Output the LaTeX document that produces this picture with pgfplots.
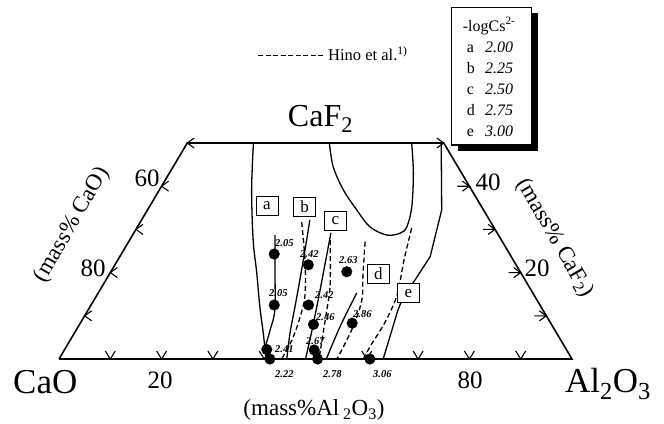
\documentclass[border=0pt]{standalone}
\usepackage{pgfplots}
\pgfplotsset{compat=1.18}
\usepackage{fontspec}
\setmainfont{Liberation Serif}

% chevron marks for the ternary scale ticks
\pgfdeclareplotmark{tickbase}{%
  \pgfpathmoveto{\pgfqpoint{-5pt}{8pt}}%
  \pgfpathlineto{\pgfqpoint{0pt}{0pt}}%
  \pgfpathlineto{\pgfqpoint{5pt}{8pt}}%
  \pgfusepathqstroke}
\pgfdeclareplotmark{tickleft}{%
  \pgfpathmoveto{\pgfqpoint{7pt}{5pt}}%
  \pgfpathlineto{\pgfqpoint{0pt}{0pt}}%
  \pgfpathlineto{\pgfqpoint{7pt}{-5pt}}%
  \pgfusepathqstroke}
\pgfdeclareplotmark{tickright}{%
  \pgfpathmoveto{\pgfqpoint{-12pt}{0pt}}%
  \pgfpathlineto{\pgfqpoint{0pt}{0pt}}%
  \pgfpathmoveto{\pgfqpoint{-7pt}{5pt}}%
  \pgfpathlineto{\pgfqpoint{0pt}{0pt}}%
  \pgfpathlineto{\pgfqpoint{-7pt}{-5pt}}%
  \pgfusepathqstroke}

% composition (A = mass% Al2O3, F = mass% CaF2) -> drawing position
\newcommand{\tx}{59+5.13*(\thisrow{A}+0.5*\thisrow{F})}
\newcommand{\ty}{359-4.32*\thisrow{F}}

\tikzset{
  iso/.style={line width=1.3pt, smooth, tension=0.55, no marks},
  hino/.style={iso, dash pattern=on 5pt off 3pt},
  val/.style={font=\fontsize{10.5}{11}\selectfont\bfseries\itshape, anchor=base west, inner sep=0pt},
  boxlab/.style={draw, fill=white, line width=1pt, minimum width=22pt, minimum height=19pt,
                 inner sep=0pt, font=\fontsize{17}{17}\selectfont},
  keytxt/.style={anchor=base west, inner sep=0pt, font=\fontsize{16}{18}\selectfont},
}

\begin{document}
\begin{tikzpicture}
\begin{axis}[
  x=1pt, y=1pt,
  xmin=0, xmax=664, ymin=0, ymax=421, y dir=reverse,
  hide axis, clip=false,
]
\path (axis cs:0,0) rectangle (axis cs:664,421);

% section of the CaO-Al2O3-CaF2 triangle up to 50 mass% CaF2
\addplot[line width=1.6pt, no marks] table[x expr=\tx, y expr=\ty]{
A F
0 0
100 0
50 50
0 50
0 0
};

% scale ticks
\addplot[only marks, mark=tickbase, mark options={line width=1.1pt}] table[x expr=\tx, y expr=\ty]{
A F
10 0
20 0
30 0
40 0
50 0
60 0
70 0
80 0
90 0
};
\addplot[only marks, mark=tickleft, mark options={line width=1.1pt}] table[x expr=\tx, y expr=\ty]{
A F
0 10
0 20
0 30
0 40
0 50
};
\addplot[only marks, mark=tickright, mark options={line width=1.1pt}] table[x expr=\tx, y expr=\ty]{
A F
90 10
80 20
70 30
60 40
50 50
};

% iso-sulphide-capacity lines, this work (solid)
\addplot[iso] table[x expr=\tx, y expr=\ty]{
A F
12.9 50
18.0 39.1
24.1 27.5
28.6 19.9
33.1 12.1
36.85 5.95
40.35 0
};
\addplot[iso] table[x expr=\tx, y expr=\ty]{
A F
27.75 28.7
31.8 20.6
36.4 11.34
37.8 6.7
38.8 2.78
};
\addplot[iso] table[x expr=\tx, y expr=\ty]{
A F
32.8 32.2
35.35 25.2
37.8 18.3
39.95 12.1
42.05 5.95
44.4 0
};
\addplot[iso] table[x expr=\tx, y expr=\ty]{
A F
38.4 29.2
42.9 16.0
45.97 6.7
48.05 0
};
\addplot[iso] table[x expr=\tx, y expr=\ty]{
A F
50.4 15.3
51.0 7.87
52.1 0
};
\addplot[line width=1.3pt, no marks] table[x expr=\tx, y expr=\ty]{
A F
49.5 50
57.35 34.5
60.5 23.7
60.25 18.3
59.85 14.8
60.4 11.34
63.2 0
};
\addplot[iso] table[x expr=\tx, y expr=\ty]{
A F
27.7 50
31.2 44.5
35.9 39.1
40.8 34.5
45.3 30.6
49.5 28.7
51.9 29.1
52.5 30.6
51.15 35.25
47.55 43.05
43.75 50
};

% Hino et al. (dashed)
\addplot[hino] table[x expr=\tx, y expr=\ty]{
A F
31.45 31.7
36.5 22.9
40.55 14.8
42.2 9.5
43.2 4.4
43.4 0
};
\addplot[hino] table[x expr=\tx, y expr=\ty]{
A F
39.1 27.5
44.3 17.1
46.7 10.9
49.07 4.4
50.7 0
};
\addplot[hino] table[x expr=\tx, y expr=\ty]{
A F
46.1 27.15
49.55 19.4
52.2 13.66
53.6 7.4
54.2 0
};
\addplot[hino] table[x expr=\tx, y expr=\ty]{
A F
53.6 30.3
55.8 22.9
58.5 14.8
59.3 8.56
59.2 3.24
59.3 0
};

% measured slags
\addplot[only marks, mark=*, mark size=5.3pt] table[x expr=\tx, y expr=\ty]{
A F
29.8 24.3
35.7 12.5
39.4 2.2
41.1 0
37.7 21.8
42.4 12.5
45.6 8.0
48.7 2.1
50.4 0
46.0 20.2
53.0 8.3
60.6 0
};

% measured -log Cs values
\node[val] at (axis cs:275,246.7) {2.05};
\node[val] at (axis cs:269,296.7) {2.05};
\node[val] at (axis cs:275,352) {2.41};
\node[val] at (axis cs:275,377) {2.22};
\node[val] at (axis cs:300,257) {2.42};
\node[val] at (axis cs:315,298) {2.42};
\node[val] at (axis cs:316,320) {2.46};
\node[val] at (axis cs:306,344) {2.67};
\node[val] at (axis cs:323,377) {2.78};
\node[val] at (axis cs:339,263) {2.63};
\node[val] at (axis cs:353,317) {2.86};
\node[val] at (axis cs:373,377) {3.06};

% line labels
\node[boxlab] at (axis cs:267,206) {a};
\node[boxlab] at (axis cs:304.7,206.7) {b};
\node[boxlab] at (axis cs:335.5,220.5) {c};
\node[boxlab] at (axis cs:378.3,273.7) {d};
\node[boxlab] at (axis cs:408.3,293.3) {e};

% corner components
\node[anchor=base, inner sep=0pt, font=\fontsize{32}{36}\selectfont] at (axis cs:320.5,126) {CaF\textsubscript{2}};
\node[anchor=base west, inner sep=0pt, font=\fontsize{35}{40}\selectfont] at (axis cs:13,393) {CaO};
\node[anchor=base west, inner sep=0pt, font=\fontsize{35}{40}\selectfont] at (axis cs:565,392) {Al\textsubscript{2}O\textsubscript{3}};

% scale numbers
\node[anchor=base, inner sep=0pt, font=\fontsize{25}{28}\selectfont] at (axis cs:160,388) {20};
\node[anchor=base, inner sep=0pt, font=\fontsize{25}{28}\selectfont] at (axis cs:470,388) {80};
\node[font=\fontsize{25}{28}\selectfont] at (axis cs:147,178) {60};
\node[font=\fontsize{25}{28}\selectfont] at (axis cs:93,268) {80};
\node[font=\fontsize{25}{28}\selectfont] at (axis cs:488,182) {40};
\node[font=\fontsize{25}{28}\selectfont] at (axis cs:537,268) {20};

% scale titles
\node[font=\fontsize{23}{26}\selectfont] at (axis cs:314,410) {(mass\%Al\,\textsubscript{2}O\textsubscript{3})};
\node[rotate=60, font=\fontsize{23}{26}\selectfont] at (axis cs:72,225) {(mass\% CaO)};
\node[rotate=-60, font=\fontsize{23}{26}\selectfont] at (axis cs:555,238) {(mass\% CaF\textsubscript{2})};

% key for the dashed lines
\draw[line width=1pt, dash pattern=on 5pt off 2.5pt] (axis cs:258,55) -- (axis cs:325,55);
\node[anchor=base west, inner sep=0pt, font=\fontsize{16.5}{18}\selectfont] at (axis cs:328,60.7) {Hino et al.\textsuperscript{1)}};

% key for the line labels
\fill[black] (axis cs:457.7,13.3) rectangle (axis cs:538,151);
\draw[line width=1.1pt, fill=white] (axis cs:451.7,7.3) rectangle (axis cs:531.7,145);
\node[keytxt] at (axis cs:462.7,31) {-logCs\textsuperscript{2-}};
\node[keytxt] at (axis cs:466.7,52.5) {a};
\node[keytxt] at (axis cs:466.7,73.5) {b};
\node[keytxt] at (axis cs:466.7,94.5) {c};
\node[keytxt] at (axis cs:466.7,115.5) {d};
\node[keytxt] at (axis cs:466.7,136.5) {e};
\node[keytxt, font=\fontsize{16}{18}\selectfont\itshape] at (axis cs:485,52.5) {2.00};
\node[keytxt, font=\fontsize{16}{18}\selectfont\itshape] at (axis cs:485,73.5) {2.25};
\node[keytxt, font=\fontsize{16}{18}\selectfont\itshape] at (axis cs:485,94.5) {2.50};
\node[keytxt, font=\fontsize{16}{18}\selectfont\itshape] at (axis cs:485,115.5) {2.75};
\node[keytxt, font=\fontsize{16}{18}\selectfont\itshape] at (axis cs:485,136.5) {3.00};
\end{axis}
\end{tikzpicture}
\end{document}
